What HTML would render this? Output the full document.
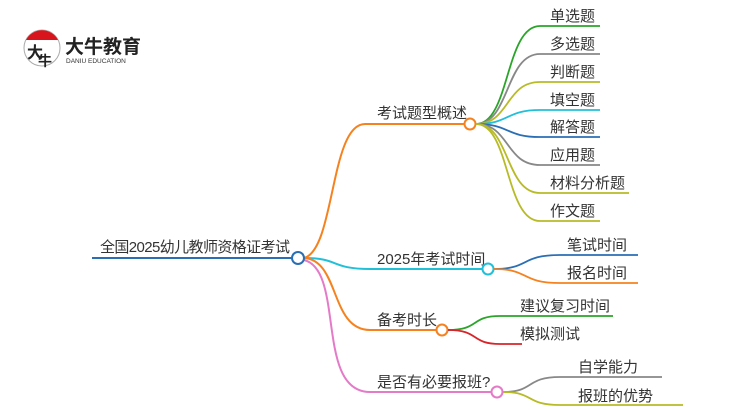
<!DOCTYPE html>
<html><head><meta charset="utf-8"><style>
html,body{margin:0;padding:0;background:#fff;width:750px;height:410px;overflow:hidden}
svg text{font-family:"Liberation Sans","Noto Sans CJK SC",sans-serif;fill:#333}
</style></head><body>
<svg width="750" height="410" viewBox="0 0 750 410" xmlns="http://www.w3.org/2000/svg" fill="none" stroke-width="2">
<!-- logo -->
<circle cx="42" cy="48" r="18" stroke="#aaa" stroke-width="1" fill="#fff"/>
<path d="M26 40 A18 18 0 0 1 58 40 Z" fill="#d8151c" stroke="none"/>
<text x="27" y="58" font-size="16" font-weight="bold" style="fill:#222">大</text>
<text x="38" y="66" font-size="14" font-weight="bold" style="fill:#222">牛</text>
<text x="65" y="53" font-size="19" font-weight="bold" style="fill:#222">大牛教育</text>
<text x="66" y="63" font-size="6.5" style="fill:#333">DANIU EDUCATION</text>

<!-- root -->
<path d="M92 258 H292" stroke="#2a6fb5"/>
<text x="100" y="252" font-size="15" textLength="190">全国2025幼儿教师资格证考试</text>

<!-- branch 1 -->
<path d="M304 258 C335 250,330 124,365 124 H464" stroke="#f5821f"/>
<text x="377" y="118" font-size="15">考试题型概述</text>
<circle cx="470" cy="124" r="5.5" stroke="#f5821f" fill="#fff"/>
<g stroke-width="1.8">
<path d="M476 124 C510 124,505 26,540 26 H600" stroke="#2aa52a"/>
<path d="M476 124 C510 124,505 54,540 54 H600" stroke="#888"/>
<path d="M476 124 C510 124,505 82,540 82 H600" stroke="#b8bb28"/>
<path d="M476 124 C510 124,505 110,540 110 H600" stroke="#22c0d8"/>
<path d="M476 124 C510 124,505 137,540 137 H600" stroke="#2a6fb5"/>
<path d="M476 124 C510 124,505 165,540 165 H600" stroke="#888"/>
<path d="M476 124 C510 124,505 193,540 193 H629" stroke="#b8bb28"/>
<path d="M476 124 C510 124,505 221,540 221 H600" stroke="#b8bb28"/>
</g>
<text x="550" y="21" font-size="15">单选题</text>
<text x="550" y="49" font-size="15">多选题</text>
<text x="550" y="77" font-size="15">判断题</text>
<text x="550" y="105" font-size="15">填空题</text>
<text x="550" y="132" font-size="15">解答题</text>
<text x="550" y="160" font-size="15">应用题</text>
<text x="550" y="188" font-size="15">材料分析题</text>
<text x="550" y="216" font-size="15">作文题</text>

<!-- branch 2 -->
<path d="M304 258 C340 258,330 269,370 269 H482" stroke="#22c0d8"/>
<text x="377" y="264" font-size="15">2025年考试时间</text>
<circle cx="488" cy="269" r="5.5" stroke="#22c0d8" fill="#fff"/>
<path d="M494 269 C530 269,520 255,560 255 H638" stroke="#2a6fb5" stroke-width="1.8"/>
<path d="M494 269 C530 269,520 283,560 283 H638" stroke="#f5821f" stroke-width="1.8"/>
<text x="567" y="250" font-size="15">笔试时间</text>
<text x="567" y="278" font-size="15">报名时间</text>

<!-- branch 3 -->
<path d="M304 258 C340 260,330 330,370 330 H436" stroke="#f5821f"/>
<text x="377" y="325" font-size="15">备考时长</text>
<circle cx="442" cy="330" r="5.5" stroke="#f5821f" fill="#fff"/>
<path d="M448 330 C480 330,470 316,500 316 H613" stroke="#2aa52a" stroke-width="1.8"/>
<path d="M448 330 C480 330,470 344,500 344 H522" stroke="#d8252a" stroke-width="1.8"/>
<text x="520" y="311" font-size="15">建议复习时间</text>
<text x="520" y="339" font-size="15">模拟测试</text>

<!-- branch 4 -->
<path d="M304 260 C345 270,315 392,370 392 H491" stroke="#e47ac8"/>
<text x="377" y="387" font-size="15">是否有必要报班?</text>
<circle cx="497" cy="392" r="5.5" stroke="#e47ac8" fill="#fff"/>
<path d="M503 392 C535 392,525 377,560 377 H662" stroke="#888" stroke-width="1.8"/>
<path d="M503 392 C535 392,525 405,560 405 H683" stroke="#b8bb28" stroke-width="1.8"/>
<text x="578" y="372" font-size="15">自学能力</text>
<text x="578" y="401" font-size="15">报班的优势</text>

<!-- root circle -->
<circle cx="298" cy="258" r="6" stroke="#2a6fb5" fill="#fff"/>
</svg>
</body></html>
